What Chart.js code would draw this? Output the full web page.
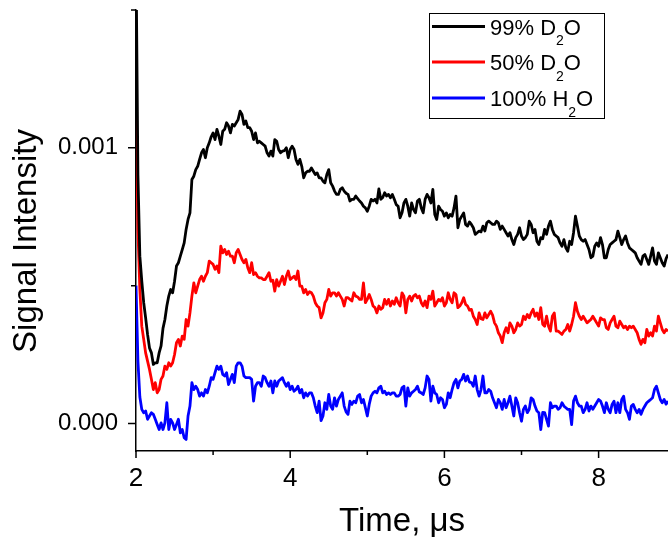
<!DOCTYPE html>
<html>
<head>
<meta charset="utf-8">
<script src="https://cdn.jsdelivr.net/npm/chart.js@4.4.1/dist/chart.umd.min.js"></script>
<style>
  html, body { margin: 0; padding: 0; background: #fff; }
  canvas { display: block; }
</style>
</head>
<body>
<canvas id="chart1" width="668" height="544"></canvas>
<script>
const chart1 = document.getElementById('chart1');
const FONT = "'Liberation Sans', Arial, sans-serif";

// time axis, microseconds (one line = 0.25 us)
const times = [
  2.000, 2.025, 2.050, 2.075, 2.100, 2.125, 2.150, 2.175, 2.200, 2.225,
  2.250, 2.275, 2.300, 2.325, 2.350, 2.375, 2.400, 2.425, 2.450, 2.475,
  2.500, 2.525, 2.550, 2.575, 2.600, 2.625, 2.650, 2.675, 2.700, 2.725,
  2.750, 2.775, 2.800, 2.825, 2.850, 2.875, 2.900, 2.925, 2.950, 2.975,
  3.000, 3.025, 3.050, 3.075, 3.100, 3.125, 3.150, 3.175, 3.200, 3.225,
  3.250, 3.275, 3.300, 3.325, 3.350, 3.375, 3.400, 3.425, 3.450, 3.475,
  3.500, 3.525, 3.550, 3.575, 3.600, 3.625, 3.650, 3.675, 3.700, 3.725,
  3.750, 3.775, 3.800, 3.825, 3.850, 3.875, 3.900, 3.925, 3.950, 3.975,
  4.000, 4.025, 4.050, 4.075, 4.100, 4.125, 4.150, 4.175, 4.200, 4.225,
  4.250, 4.275, 4.300, 4.325, 4.350, 4.375, 4.400, 4.425, 4.450, 4.475,
  4.500, 4.525, 4.550, 4.575, 4.600, 4.625, 4.650, 4.675, 4.700, 4.725,
  4.750, 4.775, 4.800, 4.825, 4.850, 4.875, 4.900, 4.925, 4.950, 4.975,
  5.000, 5.025, 5.050, 5.075, 5.100, 5.125, 5.150, 5.175, 5.200, 5.225,
  5.250, 5.275, 5.300, 5.325, 5.350, 5.375, 5.400, 5.425, 5.450, 5.475,
  5.500, 5.525, 5.550, 5.575, 5.600, 5.625, 5.650, 5.675, 5.700, 5.725,
  5.750, 5.775, 5.800, 5.825, 5.850, 5.875, 5.900, 5.925, 5.950, 5.975,
  6.000, 6.025, 6.050, 6.075, 6.100, 6.125, 6.150, 6.175, 6.200, 6.225,
  6.250, 6.275, 6.300, 6.325, 6.350, 6.375, 6.400, 6.425, 6.450, 6.475,
  6.500, 6.525, 6.550, 6.575, 6.600, 6.625, 6.650, 6.675, 6.700, 6.725,
  6.750, 6.775, 6.800, 6.825, 6.850, 6.875, 6.900, 6.925, 6.950, 6.975,
  7.000, 7.025, 7.050, 7.075, 7.100, 7.125, 7.150, 7.175, 7.200, 7.225,
  7.250, 7.275, 7.300, 7.325, 7.350, 7.375, 7.400, 7.425, 7.450, 7.475,
  7.500, 7.525, 7.550, 7.575, 7.600, 7.625, 7.650, 7.675, 7.700, 7.725,
  7.750, 7.775, 7.800, 7.825, 7.850, 7.875, 7.900, 7.925, 7.950, 7.975,
  8.000, 8.025, 8.050, 8.075, 8.100, 8.125, 8.150, 8.175, 8.200, 8.225,
  8.250, 8.275, 8.300, 8.325, 8.350, 8.375, 8.400, 8.425, 8.450, 8.475,
  8.500, 8.525, 8.550, 8.575, 8.600, 8.625, 8.650, 8.675, 8.700, 8.725,
  8.750, 8.775, 8.800, 8.825, 8.850, 8.875, 8.900
];

// 99% D2O
const d2o99 = [
  0.001700, 0.000900, 0.000607, 0.000516, 0.000438, 0.000383, 0.000323, 0.000274, 0.000256, 0.000214,
  0.000220, 0.000220, 0.000256, 0.000281, 0.000345, 0.000377, 0.000426, 0.000462, 0.000486, 0.000474,
  0.000516, 0.000571, 0.000583, 0.000607, 0.000631, 0.000655, 0.000704, 0.000740, 0.000764, 0.000885,
  0.000897, 0.000921, 0.000933, 0.000958, 0.000982, 0.000994, 0.000964, 0.001000, 0.001018, 0.001040,
  0.001054, 0.001030, 0.001067, 0.001042, 0.001012, 0.001060, 0.001067, 0.001091, 0.001079, 0.001054,
  0.001085, 0.001079, 0.001091, 0.001103, 0.001133, 0.001121, 0.001085, 0.001097, 0.001073, 0.001073,
  0.001060, 0.001030, 0.001054, 0.001018, 0.001024, 0.001018, 0.001012, 0.001006, 0.000982, 0.000970,
  0.000988, 0.000970, 0.001030, 0.001024, 0.000994, 0.000982, 0.000988, 0.000990, 0.001000, 0.000964,
  0.000994, 0.001006, 0.000994, 0.000958, 0.000940, 0.000958, 0.000933, 0.000891, 0.000909, 0.000915,
  0.000915, 0.000927, 0.000915, 0.000903, 0.000909, 0.000891, 0.000891, 0.000879, 0.000873, 0.000903,
  0.000921, 0.000873, 0.000861, 0.000843, 0.000831, 0.000831, 0.000849, 0.000855, 0.000843, 0.000835,
  0.000831, 0.000807, 0.000813, 0.000813, 0.000825, 0.000816, 0.000807, 0.000800, 0.000788, 0.000782,
  0.000770, 0.000788, 0.000813, 0.000807, 0.000813, 0.000800, 0.000851, 0.000813, 0.000820, 0.000837,
  0.000825, 0.000831, 0.000819, 0.000831, 0.000813, 0.000794, 0.000788, 0.000746, 0.000764, 0.000800,
  0.000813, 0.000788, 0.000752, 0.000800, 0.000776, 0.000764, 0.000807, 0.000813, 0.000782, 0.000764,
  0.000813, 0.000831, 0.000819, 0.000800, 0.000849, 0.000758, 0.000740, 0.000788, 0.000776, 0.000770,
  0.000752, 0.000764, 0.000746, 0.000758, 0.000752, 0.000782, 0.000825, 0.000710, 0.000740, 0.000752,
  0.000764, 0.000722, 0.000716, 0.000731, 0.000722, 0.000710, 0.000686, 0.000692, 0.000698, 0.000695,
  0.000716, 0.000698, 0.000728, 0.000734, 0.000728, 0.000722, 0.000722, 0.000734, 0.000728, 0.000704,
  0.000716, 0.000704, 0.000692, 0.000680, 0.000692, 0.000667, 0.000649, 0.000674, 0.000686, 0.000710,
  0.000680, 0.000667, 0.000674, 0.000686, 0.000734, 0.000722, 0.000692, 0.000704, 0.000661, 0.000649,
  0.000674, 0.000670, 0.000704, 0.000686, 0.000716, 0.000734, 0.000704, 0.000686, 0.000680, 0.000674,
  0.000655, 0.000643, 0.000667, 0.000637, 0.000625, 0.000661, 0.000649, 0.000692, 0.000752, 0.000716,
  0.000680, 0.000667, 0.000661, 0.000667, 0.000649, 0.000631, 0.000601, 0.000607, 0.000643, 0.000655,
  0.000643, 0.000674, 0.000649, 0.000601, 0.000601, 0.000631, 0.000649, 0.000655, 0.000661, 0.000667,
  0.000698, 0.000674, 0.000649, 0.000667, 0.000680, 0.000655, 0.000637, 0.000631, 0.000625, 0.000619,
  0.000601, 0.000589, 0.000577, 0.000607, 0.000613, 0.000595, 0.000577, 0.000607, 0.000637, 0.000589,
  0.000577, 0.000619, 0.000601, 0.000583, 0.000571, 0.000598, 0.000613
];

// 50% D2O
const d2o50 = [
  0.001250, 0.000700, 0.000486, 0.000353, 0.000305, 0.000256, 0.000226, 0.000196, 0.000160, 0.000123,
  0.000148, 0.000111, 0.000123, 0.000160, 0.000172, 0.000208, 0.000196, 0.000220, 0.000208, 0.000220,
  0.000250, 0.000293, 0.000305, 0.000281, 0.000317, 0.000305, 0.000377, 0.000353, 0.000401, 0.000462,
  0.000510, 0.000474, 0.000498, 0.000522, 0.000534, 0.000516, 0.000534, 0.000547, 0.000589, 0.000583,
  0.000577, 0.000559, 0.000571, 0.000547, 0.000643, 0.000619, 0.000631, 0.000613, 0.000625, 0.000607,
  0.000607, 0.000583, 0.000619, 0.000631, 0.000613, 0.000595, 0.000583, 0.000595, 0.000565, 0.000547,
  0.000583, 0.000540, 0.000547, 0.000534, 0.000528, 0.000528, 0.000522, 0.000522, 0.000534, 0.000547,
  0.000516, 0.000520, 0.000480, 0.000522, 0.000498, 0.000516, 0.000534, 0.000504, 0.000534, 0.000553,
  0.000522, 0.000528, 0.000534, 0.000522, 0.000553, 0.000498, 0.000498, 0.000474, 0.000486, 0.000468,
  0.000478, 0.000474, 0.000462, 0.000438, 0.000426, 0.000420, 0.000383, 0.000401, 0.000438, 0.000450,
  0.000486, 0.000462, 0.000474, 0.000474, 0.000462, 0.000474, 0.000462, 0.000450, 0.000426, 0.000456,
  0.000456, 0.000450, 0.000444, 0.000474, 0.000462, 0.000459, 0.000450, 0.000450, 0.000510, 0.000438,
  0.000450, 0.000468, 0.000450, 0.000426, 0.000420, 0.000401, 0.000426, 0.000414, 0.000420, 0.000450,
  0.000432, 0.000450, 0.000426, 0.000444, 0.000432, 0.000456, 0.000438, 0.000426, 0.000474, 0.000462,
  0.000401, 0.000450, 0.000462, 0.000444, 0.000462, 0.000468, 0.000456, 0.000462, 0.000438, 0.000426,
  0.000444, 0.000420, 0.000462, 0.000450, 0.000480, 0.000426, 0.000438, 0.000450, 0.000444, 0.000456,
  0.000426, 0.000438, 0.000474, 0.000450, 0.000438, 0.000474, 0.000468, 0.000420, 0.000426, 0.000438,
  0.000456, 0.000432, 0.000426, 0.000411, 0.000414, 0.000389, 0.000377, 0.000359, 0.000401, 0.000380,
  0.000377, 0.000401, 0.000383, 0.000395, 0.000407, 0.000393, 0.000365, 0.000353, 0.000329, 0.000317,
  0.000293, 0.000329, 0.000347, 0.000329, 0.000365, 0.000353, 0.000329, 0.000341, 0.000365, 0.000353,
  0.000359, 0.000389, 0.000377, 0.000395, 0.000383, 0.000401, 0.000414, 0.000389, 0.000401, 0.000377,
  0.000420, 0.000360, 0.000353, 0.000389, 0.000353, 0.000335, 0.000389, 0.000401, 0.000335, 0.000335,
  0.000329, 0.000323, 0.000335, 0.000341, 0.000359, 0.000335, 0.000359, 0.000389, 0.000438, 0.000407,
  0.000389, 0.000377, 0.000389, 0.000377, 0.000365, 0.000371, 0.000377, 0.000389, 0.000377, 0.000365,
  0.000353, 0.000383, 0.000377, 0.000377, 0.000347, 0.000341, 0.000365, 0.000377, 0.000389, 0.000353,
  0.000347, 0.000371, 0.000359, 0.000347, 0.000353, 0.000341, 0.000353, 0.000347, 0.000353, 0.000341,
  0.000329, 0.000305, 0.000287, 0.000305, 0.000293, 0.000341, 0.000317, 0.000329, 0.000317, 0.000353,
  0.000335, 0.000389, 0.000365, 0.000341, 0.000329, 0.000341, 0.000335
];

// 100% H2O
const h2o100 = [
  0.000500, 0.000226, 0.000096, 0.000051, 0.000039, 0.000045, 0.000015, 0.000027, 0.000039, 0.000033,
  0.000015, -0.000004, -0.000022, 0.000002, -0.000022, 0.000002, 0.000075, -0.000022, 0.000015, 0.000002,
  -0.000022, -0.000004, 0.000015, -0.000034, -0.000022, -0.000052, -0.000058, 0.000027, 0.000063, 0.000148,
  0.000123, 0.000135, 0.000123, 0.000099, 0.000111, 0.000099, 0.000123, 0.000111, 0.000135, 0.000166,
  0.000160, 0.000184, 0.000208, 0.000196, 0.000208, 0.000178, 0.000172, 0.000184, 0.000141, 0.000160,
  0.000178, 0.000148, 0.000208, 0.000220, 0.000220, 0.000208, 0.000172, 0.000166, 0.000166, 0.000166,
  0.000160, 0.000081, 0.000135, 0.000148, 0.000148, 0.000135, 0.000172, 0.000166, 0.000148, 0.000135,
  0.000154, 0.000111, 0.000154, 0.000135, 0.000154, 0.000160, 0.000166, 0.000148, 0.000135, 0.000148,
  0.000123, 0.000135, 0.000117, 0.000123, 0.000135, 0.000111, 0.000123, 0.000093, 0.000111, 0.000099,
  0.000111, 0.000111, 0.000093, 0.000063, 0.000039, 0.000081, 0.000010, 0.000027, 0.000075, 0.000051,
  0.000105, 0.000063, 0.000051, 0.000093, 0.000063, 0.000087, 0.000099, 0.000111, 0.000063, 0.000042,
  0.000033, 0.000081, 0.000069, 0.000081, 0.000075, 0.000099, 0.000105, 0.000075, 0.000087, 0.000057,
  0.000027, 0.000069, 0.000099, 0.000111, 0.000117, 0.000111, 0.000129, 0.000135, 0.000111, 0.000117,
  0.000105, 0.000111, 0.000105, 0.000111, 0.000111, 0.000099, 0.000099, 0.000105, 0.000129, 0.000135,
  0.000063, 0.000129, 0.000099, 0.000111, 0.000117, 0.000123, 0.000135, 0.000114, 0.000111, 0.000105,
  0.000129, 0.000172, 0.000160, 0.000081, 0.000135, 0.000111, 0.000105, 0.000075, 0.000093, 0.000087,
  0.000057, 0.000069, 0.000111, 0.000093, 0.000123, 0.000148, 0.000160, 0.000129, 0.000154, 0.000160,
  0.000178, 0.000154, 0.000172, 0.000150, 0.000148, 0.000135, 0.000172, 0.000123, 0.000099, 0.000123,
  0.000172, 0.000111, 0.000111, 0.000123, 0.000117, 0.000093, 0.000075, 0.000057, 0.000087, 0.000075,
  0.000051, 0.000087, 0.000057, 0.000075, 0.000099, 0.000063, 0.000027, 0.000093, 0.000075, 0.000039,
  0.000008, 0.000051, 0.000063, 0.000039, 0.000051, 0.000093, 0.000087, 0.000063, 0.000045, 0.000039,
  -0.000022, 0.000040, 0.000039, 0.000015, -0.000010, 0.000075, 0.000057, 0.000063, 0.000063, 0.000051,
  0.000057, 0.000075, 0.000063, 0.000057, 0.000051, 0.000051, -0.000004, 0.000081, 0.000099, 0.000075,
  0.000063, 0.000063, 0.000039, 0.000051, 0.000075, 0.000045, 0.000063, 0.000051, 0.000063, 0.000075,
  0.000087, 0.000081, 0.000063, 0.000039, 0.000075, 0.000051, 0.000039, 0.000069, 0.000081, 0.000039,
  0.000075, 0.000039, 0.000087, 0.000099, 0.000051, 0.000039, 0.000015, 0.000063, 0.000069, 0.000051,
  0.000039, 0.000051, 0.000033, 0.000051, 0.000063, 0.000075, 0.000081, 0.000087, 0.000093, 0.000123,
  0.000135, 0.000111, 0.000087, 0.000075, 0.000087, 0.000070, 0.000081
];

const seriesLabels = ['99% D₂O', '50% D₂O', '100% H₂O'];
const seriesColors = ['#000000', '#ff0000', '#0000ff'];

// minor + major tick marks, drawn outward like Origin
const axisTicks = {
  id: 'axisTicks',
  afterDraw(chart) {
    const ctx = chart.ctx;
    const xs = chart.scales.x, ys = chart.scales.y;
    const minors = (scale) => {
      const v = scale.ticks.map(t => t.value);
      const out = [];
      if (v.length < 2) return out;
      const step = v[1] - v[0];
      const cand = [v[0] - step / 2];
      for (let i = 0; i < v.length; i++) cand.push(v[i] + step / 2);
      const eps = step * 1e-6;
      cand.forEach(c => { if (c >= scale.min - eps && c <= scale.max + eps) out.push(c); });
      return out;
    };
    ctx.save();
    ctx.strokeStyle = '#000';
    ctx.lineWidth = 1.5;
    ctx.beginPath();
    xs.ticks.forEach(t => { const p = xs.getPixelForValue(t.value); ctx.moveTo(p, xs.top); ctx.lineTo(p, xs.top + 7); });
    minors(xs).forEach(v => { const p = xs.getPixelForValue(v); ctx.moveTo(p, xs.top); ctx.lineTo(p, xs.top + 4); });
    ys.ticks.forEach(t => { const p = ys.getPixelForValue(t.value); ctx.moveTo(ys.right, p); ctx.lineTo(ys.right - 8, p); });
    minors(ys).forEach(v => { const p = ys.getPixelForValue(v); ctx.moveTo(ys.right, p); ctx.lineTo(ys.right - 5, p); });
    ctx.stroke();
    ctx.restore();
  }
};

// rotated y title, sits a bit below the centre of the axis
const yTitle = {
  id: 'yTitle',
  afterDraw(chart) {
    const ctx = chart.ctx;
    ctx.save();
    ctx.translate(27, 241);
    ctx.rotate(-Math.PI / 2);
    ctx.font = '33px ' + FONT;
    ctx.fillStyle = '#000';
    ctx.textAlign = 'center';
    ctx.textBaseline = 'middle';
    ctx.fillText(chart.options.scales.y.title.text, 0, 0);
    ctx.restore();
  }
};

// boxed legend with subscripts
const subLegend = {
  id: 'subLegend',
  afterDraw(chart) {
    const ctx = chart.ctx;
    const box = { left: 429, top: 13, right: 604, bottom: 118 };
    const rows = [26.5, 62, 98];
    const subs = { '₀': '0', '₁': '1', '₂': '2', '₃': '3' };
    ctx.save();
    ctx.fillStyle = '#fff';
    ctx.fillRect(box.left, box.top, box.right - box.left, box.bottom - box.top);
    ctx.strokeStyle = '#000';
    ctx.lineWidth = 1;
    ctx.strokeRect(box.left + 0.5, box.top + 0.5, box.right - box.left, box.bottom - box.top);
    chart.data.datasets.forEach((ds, i) => {
      const y = rows[i];
      ctx.strokeStyle = ds.borderColor;
      ctx.lineWidth = 3;
      ctx.beginPath();
      ctx.moveTo(432, y);
      ctx.lineTo(485, y);
      ctx.stroke();
      let x = 490;
      ctx.fillStyle = '#000';
      ctx.textBaseline = 'alphabetic';
      for (const ch of ds.label) {
        if (subs[ch]) {
          ctx.font = '14px ' + FONT;
          ctx.fillText(subs[ch], x, y + 18.5);
          x += ctx.measureText(subs[ch]).width;
        } else {
          ctx.font = '22px ' + FONT;
          ctx.fillText(ch, x, y + 8);
          x += ctx.measureText(ch).width;
        }
      }
    });
    ctx.restore();
  }
};

new Chart(chart1, {
  type: 'line',
  data: {
    labels: times,
    datasets: [
      { label: seriesLabels[0], data: d2o99, borderColor: seriesColors[0] },
      { label: seriesLabels[1], data: d2o50, borderColor: seriesColors[1] },
      { label: seriesLabels[2], data: h2o100, borderColor: seriesColors[2] }
    ]
  },
  options: {
    responsive: false,
    maintainAspectRatio: false,
    animation: false,
    datasets: {
      line: { borderWidth: 2.8, pointRadius: 0, tension: 0, borderJoinStyle: 'round', fill: false }
    },
    layout: { padding: { top: 10, right: 0, bottom: 0, left: 0 } },
    plugins: {
      legend: { display: false },
      tooltip: { enabled: false }
    },
    scales: {
      x: {
        type: 'linear',
        min: 2,
        max: 8.9,
        afterFit: (s) => { s.height = 93; s.paddingLeft = 0; s.paddingRight = 0; },
        border: { display: true, color: '#000', width: 1.5 },
        grid: { display: true, drawOnChartArea: false, drawTicks: true, tickLength: 7, tickColor: 'rgba(0,0,0,0)' },
        ticks: {
          stepSize: 2, includeBounds: false, autoSkip: false, maxRotation: 0,
          color: '#000', padding: 5, font: { family: FONT, size: 26 }
        },
        title: {
          display: true, text: 'Time, μs', color: '#000',
          font: { family: FONT, size: 33 }, padding: { top: 0, bottom: 2 }
        }
      },
      y: {
        min: -0.0001,
        max: 0.0015,
        afterFit: (s) => { s.width = 136; s.paddingTop = 0; s.paddingBottom = 0; },
        border: { display: true, color: '#000', width: 1.5 },
        grid: { display: true, drawOnChartArea: false, drawTicks: true, tickLength: 8, tickColor: 'rgba(0,0,0,0)' },
        ticks: {
          stepSize: 0.001, includeBounds: false,
          color: '#000', padding: 10, font: { family: FONT, size: 24 },
          callback: (v) => Number(v).toFixed(3)
        },
        title: { display: false, text: 'Signal Intensity' }
      }
    }
  },
  plugins: [axisTicks, yTitle, subLegend]
});
</script>
</body>
</html>
